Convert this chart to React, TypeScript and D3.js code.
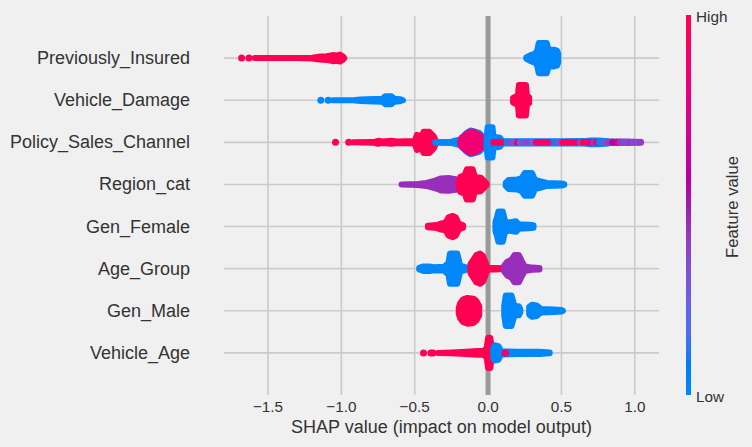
import React from "react";
import * as d3 from "d3";

type Pt = [number, number]; // [SHAP value, swarm density 0..1]
type Cluster = { fv: number; pts: Pt[] }; // fv = feature value 0 (low) .. 1 (high)
type Dot = [number, number]; // [SHAP value, feature value]

const featureNames = [
  "Previously_Insured",
  "Vehicle_Damage",
  "Policy_Sales_Channel",
  "Region_cat",
  "Gen_Female",
  "Age_Group",
  "Gen_Male",
  "Vehicle_Age",
];
const xTicks = [-1.5, -1.0, -0.5, 0.0, 0.5, 1.0];

const previouslyInsured: Cluster[] = [
  { fv: 1, pts: [[-1.59, 0], [-1.3, 0], [-1.2, 0.03], [-1.15, 0.1], [-1.1, 0.12], [-1.06, 0.2], [-1.03, 0.17], [-1.01, 0.23], [-0.99, 0.12], [-0.98, 0]] },
  { fv: 0, pts: [[0.26, 0.05], [0.29, 0.2], [0.32, 0.3], [0.335, 0.5], [0.345, 1.0], [0.4, 1.0], [0.412, 0.55], [0.45, 0.55], [0.47, 0.5], [0.478, 0.3]] },
];
const previouslyInsuredDots: Dot[] = [[-1.68, 1], [-1.63, 1]];

const vehicleDamage: Cluster[] = [
  { fv: 0, pts: [[-1.06, 0], [-0.92, 0], [-0.87, 0.05], [-0.78, 0.08], [-0.72, 0.1], [-0.7, 0.27], [-0.66, 0.27], [-0.64, 0.1], [-0.6, 0.07], [-0.58, 0]] },
  { fv: 1, pts: [[0.17, 0.15], [0.19, 0.25], [0.203, 0.3], [0.21, 1.0], [0.258, 1.0], [0.265, 0.3], [0.28, 0.2]] },
];
const vehicleDamageDots: Dot[] = [[-1.14, 0], [-1.09, 0]];

const policySalesChannel: Cluster[] = [
  { fv: 1, pts: [[-0.92, 0], [-0.78, 0.02], [-0.75, 0.1], [-0.72, 0.05], [-0.66, 0.1], [-0.62, 0.05], [-0.5, 0.08], [-0.485, 0.5], [-0.47, 0.45], [-0.455, 0.3], [-0.44, 0.7], [-0.4, 0.7], [-0.37, 0.4], [-0.355, 0.05]] },
  { fv: 0, pts: [[-0.36, 0.02], [-0.25, 0.04], [-0.19, 0.2], [-0.15, 0.6], [-0.12, 0.78], [-0.06, 0.62], [-0.03, 0.3], [-0.01, 0.1]] },
  { fv: 0.85, pts: [[-0.19, 0.05], [-0.18, 0.3], [-0.15, 0.5], [-0.13, 0.68], [-0.1, 0.72], [-0.07, 0.55], [-0.04, 0.35], [-0.025, 0.1]] },
  { fv: 0, pts: [[-0.01, 0.3], [-0.003, 1.0], [0.03, 1.0], [0.037, 0.35], [0.06, 0.33], [0.08, 0.3], [0.1, 0.07], [0.5, 0.07], [0.65, 0.08], [0.7, 0.12], [0.75, 0.12], [0.82, 0.07], [0.85, 0]] },
  { fv: 0.35, pts: [[0.84, 0.05], [0.95, 0.05], [1.03, 0.03]] },
];
const policySalesChannelDots: Dot[] = [
  [-1.04, 1], [-0.95, 1], [0.04, 1], [0.07, 0.85], [0.09, 1], [0.13, 0], [0.15, 0.35], [0.17, 0.3],
  [0.2, 0.85], [0.22, 0.2], [0.24, 0.3], [0.27, 0.35], [0.3, 0.25], [0.33, 0.9], [0.355, 0.85],
  [0.38, 1], [0.41, 0.9], [0.45, 0.1], [0.48, 0.3], [0.51, 0.95], [0.54, 1], [0.57, 0.9], [0.6, 0.95],
  [0.63, 0.35], [0.65, 1], [0.68, 1], [0.7, 0.8], [0.72, 0.4], [0.74, 0.9], [0.76, 0.0], [0.79, 0.3],
  [0.82, 0.4], [0.85, 0.55], [0.88, 0.7], [0.9, 0.4], [0.93, 0.35], [0.96, 0.4], [0.99, 0.35],
  [1.02, 0.35], [1.04, 0.4],
];

const regionCat: Cluster[] = [
  { fv: 0.45, pts: [[-0.59, 0], [-0.48, 0.03], [-0.42, 0.1], [-0.36, 0.25], [-0.32, 0.4], [-0.27, 0.42], [-0.22, 0.35], [-0.19, 0.2]] },
  { fv: 1, pts: [[-0.2, 0.15], [-0.19, 0.5], [-0.16, 0.6], [-0.145, 1.0], [-0.105, 1.0], [-0.09, 0.5], [-0.05, 0.45], [-0.025, 0.2], [-0.01, 0.05]] },
  { fv: 0, pts: [[0.12, 0.1], [0.14, 0.3], [0.2, 0.33], [0.23, 0.45], [0.25, 0.75], [0.3, 0.75], [0.32, 0.3], [0.36, 0.2], [0.4, 0.1], [0.5, 0.07], [0.52, 0.02]] },
];
const regionCatDots: Dot[] = [];

const genFemale: Cluster[] = [
  { fv: 1, pts: [[-0.41, 0.05], [-0.35, 0.1], [-0.32, 0.2], [-0.29, 0.25], [-0.27, 0.6], [-0.24, 0.7], [-0.22, 0.6], [-0.2, 0.2], [-0.17, 0.08]] },
  { fv: 0, pts: [[0.05, 0.3], [0.06, 0.6], [0.07, 1.0], [0.1, 1.0], [0.115, 0.4], [0.13, 0.25], [0.16, 0.3], [0.19, 0.35], [0.21, 0.15], [0.28, 0.12], [0.31, 0.08]] },
];
const genFemaleDots: Dot[] = [];

const ageGroup: Cluster[] = [
  { fv: 0, pts: [[-0.47, 0.05], [-0.44, 0.15], [-0.4, 0.15], [-0.37, 0.1], [-0.3, 0.12], [-0.27, 0.4], [-0.26, 1.0], [-0.21, 1.0], [-0.19, 0.2], [-0.15, 0.08], [-0.12, 0.05]] },
  { fv: 1, pts: [[-0.12, 0.3], [-0.1, 0.6], [-0.08, 0.9], [-0.055, 1.0], [-0.035, 0.85], [-0.02, 0.5], [-0.01, 0.2], [0.0, 0.05], [0.05, 0.05], [0.1, 0.02]] },
  { fv: 0.45, pts: [[0.11, 0.2], [0.13, 0.45], [0.16, 0.6], [0.18, 0.9], [0.21, 0.9], [0.23, 0.5], [0.25, 0.15], [0.3, 0.07], [0.35, 0.05]] },
];
const ageGroupDots: Dot[] = [];

const genMale: Cluster[] = [
  { fv: 1, pts: [[-0.2, 0.2], [-0.19, 0.5], [-0.17, 0.75], [-0.14, 0.85], [-0.1, 0.8], [-0.08, 0.65], [-0.06, 0.3]] },
  { fv: 0, pts: [[0.11, 0.3], [0.12, 1.0], [0.16, 1.0], [0.18, 0.3], [0.21, 0.3], [0.22, 0.1]] },
  { fv: 0, pts: [[0.28, 0.25], [0.3, 0.4], [0.33, 0.35], [0.36, 0.12], [0.45, 0.08], [0.5, 0.05], [0.51, 0]] },
];
const genMaleDots: Dot[] = [];

const vehicleAge: Cluster[] = [
  { fv: 1, pts: [[-0.34, 0], [-0.25, 0.03], [-0.15, 0.08], [-0.07, 0.12], [-0.03, 0.13], [-0.01, 0.3], [0.0, 1.0], [0.015, 1.0], [0.025, 0.3]] },
  { fv: 0, pts: [[0.035, 0.3], [0.045, 0.5], [0.07, 0.45], [0.09, 0.1], [0.2, 0.07], [0.35, 0.07], [0.42, 0.03]] },
];
const vehicleAgeDots: Dot[] = [[-0.44, 1], [-0.39, 1], [-0.375, 1], [0.115, 1], [0.12, 0.85]];

const rowClusters = [previouslyInsured, vehicleDamage, policySalesChannel, regionCat, genFemale, ageGroup, genMale, vehicleAge];
const rowDots = [previouslyInsuredDots, vehicleDamageDots, policySalesChannelDots, regionCatDots, genFemaleDots, ageGroupDots, genMaleDots, vehicleAgeDots];

const W = 752;
const H = 447;
const FONT = "'Liberation Sans', Arial, sans-serif";
const TEXT = "#333333";
const GRID = "#cbcbcb";

// SHAP red_blue colormap: LCH from blue to red, lightness dipping to 40 in the middle
const BLUE_LCH = [54, 70, 266.93];
const RED_LCH = [54, 90, 380.32];
const L_MID = 40;
const cmap = (t: number) => {
  const l = t < 0.5 ? BLUE_LCH[0] + (L_MID - BLUE_LCH[0]) * (t / 0.5) : L_MID + (RED_LCH[0] - L_MID) * ((t - 0.5) / 0.5);
  const c = BLUE_LCH[1] + (RED_LCH[1] - BLUE_LCH[1]) * t;
  const h = (BLUE_LCH[2] + (RED_LCH[2] - BLUE_LCH[2]) * t) % 360;
  const rgb = d3.rgb(d3.hcl(h, c, l));
  const cl = (v: number) => Math.max(0, Math.min(255, v));
  return d3.rgb(cl(rgb.r), cl(rgb.g), cl(rgb.b)).formatHex();
};

export default function App() {
  const n = featureNames.length;
  const x = d3.scaleLinear().domain([-1.8, 1.165]).range([224, 659]);
  const y = d3.scaleLinear().domain([-1, n]).range([395, 16]);
  const rowY = (i: number) => y(n - 1 - i);
  const step = Math.abs(y(1) - y(0));
  const hu = 0.36 * step;
  const r = 3;

  const stops = d3.range(0, 1.0001, 0.02);

  return (
    <svg width={W} height={H} style={{ position: "absolute", left: 0, top: 0, display: "block" }} fontFamily={FONT}>
      <defs>
        <linearGradient id="cbar" x1="0" y1="1" x2="0" y2="0">
          {stops.map((t) => (
            <stop key={t} offset={`${t * 100}%`} stopColor={cmap(t)} />
          ))}
        </linearGradient>
      </defs>
      <rect x={0} y={0} width={W} height={H} fill="#f0f0f0" />

      {/* vertical grid */}
      {xTicks.map((t) => (
        <line key={`vg${t}`} x1={x(t)} x2={x(t)} y1={y(n)} y2={y(-1)} stroke={GRID} strokeWidth={1.6} />
      ))}
      {/* horizontal grid */}
      {featureNames.map((f, i) => (
        <line key={`hg${f}`} x1={x.range()[0]} x2={x.range()[1]} y1={rowY(i)} y2={rowY(i)} stroke={GRID} strokeWidth={1.6} />
      ))}
      {/* zero line */}
      <line x1={x(0)} x2={x(0)} y1={y(n)} y2={y(-1)} stroke="#999999" strokeWidth={5} />

      {/* swarms */}
      {rowClusters.map((clusters, i) => {
        const cy = rowY(i);
        const area = d3
          .area<Pt>()
          .x((d) => x(d[0]))
          .y0((d) => cy - d[1] * hu)
          .y1((d) => cy + d[1] * hu)
          .curve(d3.curveLinear);
        return (
          <g key={`row${i}`}>
            {clusters.map((c, j) => {
              const col = cmap(c.fv);
              return (
                <path
                  key={j}
                  d={area(c.pts) || ""}
                  fill={col}
                  stroke={col}
                  strokeWidth={2 * r}
                  strokeLinejoin="round"
                  strokeLinecap="round"
                />
              );
            })}
            {rowDots[i].map((d, j) => (
              <circle key={`d${j}`} cx={x(d[0])} cy={cy} r={r + 0.5} fill={cmap(d[1])} />
            ))}
          </g>
        );
      })}

      {/* y labels */}
      {featureNames.map((f, i) => (
        <text key={`yl${f}`} x={190} y={rowY(i)} textAnchor="end" dominantBaseline="central" fontSize={18} fill={TEXT}>
          {f}
        </text>
      ))}

      {/* x tick labels */}
      {xTicks.map((t) => (
        <text key={`xt${t}`} x={x(t)} y={406} textAnchor="middle" dominantBaseline="central" fontSize={15.3} fill={TEXT}>
          {t.toFixed(1).replace("-", "\u2212")}
        </text>
      ))}
      <text x={(x.range()[0] + x.range()[1]) / 2} y={427} textAnchor="middle" dominantBaseline="central" fontSize={18} fill={TEXT}>
        SHAP value (impact on model output)
      </text>

      {/* colorbar */}
      <rect x={686} y={15} width={5} height={380} fill="url(#cbar)" />
      <text x={696} y={16} dominantBaseline="central" fontSize={15.3} fill={TEXT}>High</text>
      <text x={696} y={396} dominantBaseline="central" fontSize={15.3} fill={TEXT}>Low</text>
      <text
        transform="translate(732.5,207) rotate(-90)"
        textAnchor="middle"
        dominantBaseline="central"
        fontSize={16.7}
        fill={TEXT}
      >
        Feature value
      </text>
    </svg>
  );
}
